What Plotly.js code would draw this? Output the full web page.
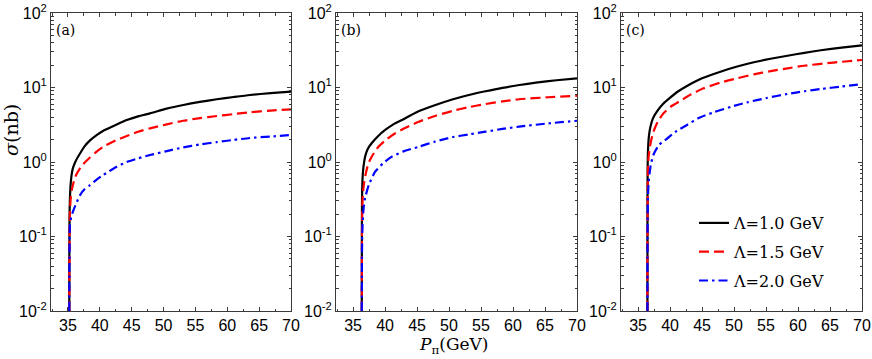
<!DOCTYPE html>
<html>
<head>
<meta charset="utf-8">
<script src="https://cdn.plot.ly/plotly-3.0.1.min.js"></script>
<style>html,body{margin:0;padding:0;background:#fff;}</style>
</head>
<body>
<div id="chart" style="width:872px;height:359px;"></div>
<script>
// ---- data ----
const seriesNames = ['Λ=1.0 GeV', 'Λ=1.5 GeV', 'Λ=2.0 GeV'];
const panelLabels = ['(a)', '(b)', '(c)'];
const xTickVals = [35, 40, 45, 50, 55, 60, 65, 70];
const yTickVals = [0.01, 0.1, 1, 10, 100];
const yTickText = ['10<sup>-2</sup>', '10<sup>-1</sup>', '10<sup>0</sup>', '10<sup>1</sup>', '10<sup>2</sup>'];

// panel (a)
const aBlackX = [35.21, 35.22, 35.24, 35.27, 35.32, 35.4, 35.5, 35.65, 35.84, 36.26, 36.89, 37.6, 38.46, 39.5, 40.55, 42.5, 44.22, 46, 47.88, 50.5, 53.1, 55.7, 58.35, 61, 63.57, 66.8, 70];
const aBlackY = [0.01, 0.05, 0.14, 0.24, 0.34, 0.47, 0.6, 0.74, 0.86, 1.05, 1.3, 1.62, 1.95, 2.3, 2.63, 3.15, 3.66, 4.1, 4.5, 5.2, 5.82, 6.4, 6.95, 7.45, 7.93, 8.4, 8.8];
const aRedX = [35.21, 35.23, 35.26, 35.3, 35.4, 35.6, 36.0, 36.4, 37.2, 38.46, 39.5, 40.55, 42.5, 44.22, 46, 47.88, 50.5, 53.1, 55.7, 58.35, 61, 63.57, 66.8, 70];
const aRedY = [0.01, 0.05, 0.12, 0.2, 0.3, 0.42, 0.58, 0.7, 0.9, 1.15, 1.38, 1.6, 1.95, 2.23, 2.55, 2.83, 3.2, 3.58, 3.88, 4.14, 4.4, 4.65, 4.9, 5.1];
const aBlueX = [35.21, 35.23, 35.26, 35.3, 35.5, 35.9, 36.4, 36.9, 37.6, 38.46, 39.5, 40.55, 42.5, 44.22, 46, 47.88, 50.5, 53.1, 55.7, 58.35, 61, 63.57, 66.8, 70];
const aBlueY = [0.01, 0.04, 0.09, 0.14, 0.18, 0.23, 0.29, 0.36, 0.43, 0.49, 0.58, 0.67, 0.85, 1.0, 1.12, 1.24, 1.4, 1.57, 1.72, 1.85, 1.98, 2.1, 2.2, 2.3];

// panel (b)
const bBlackX = [36.37, 36.38, 36.4, 36.43, 36.48, 36.56, 36.7, 36.89, 37.3, 37.94, 38.9, 40.03, 41.3, 42.65, 45, 47.88, 50.5, 53.1, 55.7, 58.35, 61, 63.57, 66.8, 70];
const bBlackY = [0.01, 0.08, 0.25, 0.42, 0.58, 0.75, 0.95, 1.18, 1.5, 1.8, 2.22, 2.69, 3.2, 3.66, 4.7, 5.82, 6.9, 7.93, 8.9, 9.9, 10.8, 11.6, 12.5, 13.3];
const bRedX = [36.37, 36.39, 36.42, 36.47, 36.55, 36.7, 37.0, 37.41, 38.1, 38.98, 40.2, 41.6, 43.3, 45.26, 47.8, 50.49, 53.1, 55.72, 58.35, 60.95, 65.5, 70];
const bRedY = [0.01, 0.07, 0.17, 0.28, 0.38, 0.5, 0.7, 0.96, 1.25, 1.6, 2.0, 2.43, 2.9, 3.47, 4.15, 4.84, 5.45, 6.0, 6.5, 6.95, 7.4, 7.76];
const bBlueX = [36.37, 36.39, 36.43, 36.5, 36.6, 36.7, 36.89, 37.5, 38.46, 39.7, 41.08, 43, 45.26, 47.8, 50.49, 53.1, 55.72, 58.35, 60.95, 65.5, 70];
const bBlueY = [0.01, 0.04, 0.1, 0.15, 0.21, 0.26, 0.33, 0.5, 0.74, 0.96, 1.18, 1.4, 1.6, 1.88, 2.15, 2.35, 2.55, 2.78, 2.98, 3.3, 3.58];

// panel (c)
const cBlackX = [36.47, 36.48, 36.49, 36.51, 36.54, 36.6, 36.7, 36.89, 37.3, 37.94, 38.9, 40.03, 41.3, 42.65, 45, 47.88, 50.5, 53.1, 55.7, 58.35, 61, 63.57, 66.8, 70];
const cBlackY = [0.01, 0.15, 0.5, 0.95, 1.3, 1.7, 2.2, 2.83, 3.8, 4.73, 6.0, 7.3, 8.9, 10.5, 13.3, 16.3, 19.1, 21.8, 24.3, 26.7, 29.2, 31.6, 34.3, 36.8];
const cRedX = [36.47, 36.48, 36.5, 36.53, 36.58, 36.65, 36.8, 37.0, 37.41, 38.1, 38.98, 40.2, 41.6, 43.3, 45.26, 47.8, 50.49, 53.1, 55.72, 58.35, 60.95, 65.5, 70];
const cRedY = [0.01, 0.1, 0.3, 0.6, 0.9, 1.15, 1.5, 1.85, 2.55, 3.5, 4.5, 5.6, 6.6, 8.1, 9.75, 11.6, 13.3, 15.0, 16.6, 18.1, 19.6, 21.6, 23.4];
const cBlueX = [36.47, 36.48, 36.5, 36.53, 36.58, 36.65, 36.8, 37.0, 37.41, 38.3, 39.5, 41, 42.65, 44.5, 46.83, 49.5, 52.06, 55, 58.35, 61, 63.57, 66.8, 70];
const cBlueY = [0.01, 0.06, 0.15, 0.27, 0.4, 0.52, 0.7, 0.92, 1.25, 1.7, 2.05, 2.6, 3.14, 3.9, 4.65, 5.5, 6.32, 7.2, 8.19, 8.9, 9.55, 10.3, 11.1];

// ---- styling ----
const styles = [
  {color: '#000000', width: 2.2, dash: 'solid'},
  {color: '#ff0000', width: 2.2, dash: '10px,5px'},
  {color: '#0000ff', width: 2.2, dash: '9px,4px,2.5px,4px'}
];
const panels = [
  {xs: [aBlackX, aRedX, aBlueX], ys: [aBlackY, aRedY, aBlueY]},
  {xs: [bBlackX, bRedX, bBlueX], ys: [bBlackY, bRedY, bBlueY]},
  {xs: [cBlackX, cRedX, cBlueX], ys: [cBlackY, cRedY, cBlueY]}
];

const W = 872, H = 359;
const mL = 51, mR = 10, mT = 13, mB = 48;
const pw = W - mL - mR;
const ph = H - mT - mB;
const pixDomains = [[51, 291], [336, 577], [621, 862]];
const domains = pixDomains.map(d => [(d[0] - mL) / pw, (d[1] - mL) / pw]);

const traces = [];
panels.forEach((p, pi) => {
  const ax = pi === 0 ? '' : String(pi + 1);
  for (let s = 0; s < 3; s++) {
    traces.push({
      type: 'scatter', mode: 'lines',
      x: p.xs[s], y: p.ys[s],
      xaxis: 'x' + ax, yaxis: 'y' + ax,
      name: seriesNames[s],
      legendgroup: 'g' + s,
      showlegend: pi === 2,
      line: {color: styles[s].color, width: styles[s].width, dash: styles[s].dash, shape: 'spline', smoothing: 0.6},
      hoverinfo: 'skip'
    });
  }
});

const yMinor = [];
for (let e = -2; e < 2; e++) for (let m = 2; m <= 9; m++) yMinor.push(m * Math.pow(10, e));

const axColor = '#3a3a3a';
const tickFont = {family: 'Liberation Sans, Arial, sans-serif', size: 16, color: '#000'};

const layout = {
  width: W, height: H,
  margin: {l: mL, r: mR, t: mT, b: mB, pad: 0},
  paper_bgcolor: '#fff', plot_bgcolor: '#fff',
  showlegend: true,
  legend: {
    x: (694 - mL) / pw, y: (311 - 206) / ph,
    xanchor: 'left', yanchor: 'top',
    bgcolor: 'rgba(0,0,0,0)', borderwidth: 0,
    font: {family: 'DejaVu Serif, serif', size: 16, color: '#000'},
    tracegroupgap: 5, itemwidth: 30
  },
  annotations: [],
};

domains.forEach((d, i) => {
  const ax = i === 0 ? '' : String(i + 1);
  layout['xaxis' + ax] = {
    domain: d, range: [32.34, 70], anchor: 'y' + ax,
    tickmode: 'array', tickvals: xTickVals,
    ticks: 'inside', ticklen: 4, tickwidth: 1, tickcolor: axColor,
    showline: true, linecolor: axColor, linewidth: 1, mirror: 'ticks',
    showgrid: false, zeroline: false, tickfont: tickFont,
    minor: {tickmode: 'linear', tick0: 32.5, dtick: 2.5, ticks: 'inside', ticklen: 2.5, tickcolor: axColor, showgrid: false}
  };
  layout['yaxis' + ax] = {
    domain: [0, 1], type: 'log', range: [-2, 2], anchor: 'x' + ax,
    tickmode: 'array', tickvals: yTickVals, ticktext: yTickText,
    ticks: 'inside', ticklen: 4, tickwidth: 1, tickcolor: axColor,
    showline: true, linecolor: axColor, linewidth: 1, mirror: 'ticks',
    showgrid: false, zeroline: false, tickfont: tickFont,
    minor: {tickmode: 'array', tickvals: yMinor, ticks: 'inside', ticklen: 2.5, tickcolor: axColor, showgrid: false}
  };
  layout.annotations.push({
    xref: 'paper', yref: 'paper', x: d[0] + 3 / pw, y: 1 - 7 / ph,
    xanchor: 'left', yanchor: 'top', showarrow: false,
    text: panelLabels[i], font: {family: 'DejaVu Serif, serif', size: 14, color: '#000'}
  });
});

layout.annotations.push({
  xref: 'paper', yref: 'paper', x: -40 / pw, y: (311 - 130) / ph,
  xanchor: 'center', yanchor: 'middle', showarrow: false, textangle: -90,
  text: '<i>σ</i>(nb)', font: {family: 'DejaVu Serif, serif', size: 19, color: '#000'}
});
layout.annotations.push({
  xref: 'paper', yref: 'paper', x: (453 - mL) / pw, y: -(345 - 311) / ph,
  xanchor: 'center', yanchor: 'middle', showarrow: false,
  text: '<i>P</i><sub>π</sub>(GeV)', font: {family: 'DejaVu Serif, serif', size: 17, color: '#000'}
});

Plotly.newPlot('chart', traces, layout, {displayModeBar: false, staticPlot: true});
</script>
</body>
</html>
